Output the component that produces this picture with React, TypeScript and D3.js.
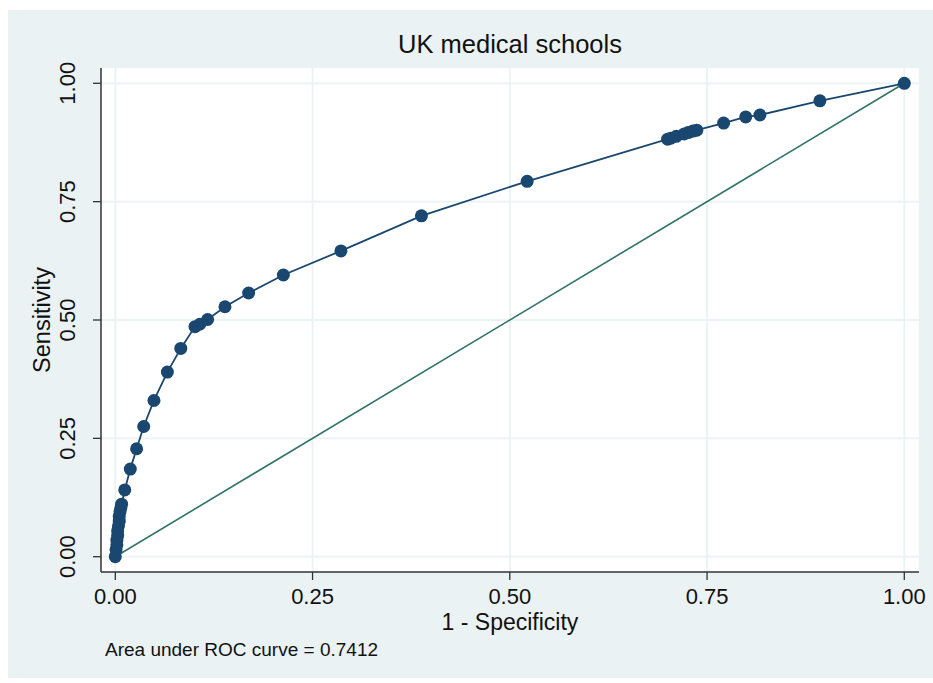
import React from 'react';
import * as d3 from 'd3';

// ROC points (1 - specificity, sensitivity)
const fpr = [0, 0.001, 0.002, 0.002, 0.003, 0.003, 0.004, 0.005, 0.005, 0.006, 0.007, 0.008,
    0.012, 0.019, 0.027, 0.036, 0.049, 0.066, 0.083, 0.101, 0.107, 0.117, 0.139, 0.169,
    0.213, 0.286, 0.388, 0.522, 0.700, 0.704, 0.711, 0.721, 0.726, 0.732, 0.737, 0.771,
    0.799, 0.817, 0.893, 1];
const tpr = [0, 0.015, 0.025, 0.035, 0.045, 0.055, 0.065, 0.075, 0.085, 0.095, 0.103, 0.111,
    0.141, 0.185, 0.228, 0.275, 0.330, 0.390, 0.440, 0.486, 0.491, 0.501, 0.528, 0.557,
    0.595, 0.646, 0.720, 0.793, 0.882, 0.884, 0.888, 0.893, 0.896, 0.899, 0.901, 0.916,
    0.929, 0.933, 0.963, 1];
const ticks = [0, 0.25, 0.5, 0.75, 1];
const tickLabels = ['0.00', '0.25', '0.50', '0.75', '1.00'];

const title = 'UK medical schools';
const xTitle = '1 - Specificity';
const yTitle = 'Sensitivity';
const note = 'Area under ROC curve = 0.7412';

const W = 933;
const H = 683;
const plot = { left: 101, right: 919, top: 68, bottom: 572 };

const FONT = 'Arial, "Liberation Sans", Helvetica, sans-serif';
const BG = '#EAF2F3';
const NAVY = '#1A476F';
const TEAL = '#2F7466';

export default function App() {
    const x = d3.scaleLinear().domain([0, 1]).range([115.3, 904.3]);
    const y = d3.scaleLinear().domain([0, 1]).range([556.7, 83.3]);

    const pts = fpr.map((f, i) => [f, tpr[i]] as [number, number]);
    const line = d3.line<[number, number]>().x(d => x(d[0])).y(d => y(d[1]));
    const midX = (plot.left + plot.right) / 2;
    const midY = (plot.top + plot.bottom) / 2;

    return (
        <svg width={W} height={H} style={{ position: 'absolute', left: 0, top: 0 }} fontFamily={FONT}>
            <rect x={0} y={0} width={W} height={H} fill="#fff" />
            <rect x={8} y={10} width={W - 8} height={668} fill={BG} />
            <rect x={plot.left} y={plot.top} width={plot.right - plot.left} height={plot.bottom - plot.top} fill="#fff" />

            {/* grid */}
            {ticks.map(t => (
                <g key={'g' + t}>
                    <line x1={x(t)} x2={x(t)} y1={plot.top} y2={plot.bottom} stroke={BG} strokeWidth={1.8} />
                    <line x1={plot.left} x2={plot.right} y1={y(t)} y2={y(t)} stroke={BG} strokeWidth={1.8} />
                </g>
            ))}

            {/* reference diagonal */}
            <line x1={x(0)} y1={y(0)} x2={x(1)} y2={y(1)} stroke={TEAL} strokeWidth={1.6} />

            {/* ROC curve */}
            <path d={line(pts) || ''} fill="none" stroke={NAVY} strokeWidth={1.8} />
            {pts.map((p, i) => (
                <circle key={i} cx={x(p[0])} cy={y(p[1])} r={6.5} fill={NAVY} />
            ))}

            {/* axes */}
            <line x1={plot.left} x2={plot.left} y1={plot.top} y2={plot.bottom} stroke="#333" strokeWidth={1.5} />
            <line x1={plot.left} x2={plot.right} y1={plot.bottom} y2={plot.bottom} stroke="#333" strokeWidth={1.5} />
            {ticks.map((t, i) => (
                <g key={'t' + t}>
                    <line x1={plot.left - 8} x2={plot.left} y1={y(t)} y2={y(t)} stroke="#333" strokeWidth={1.3} />
                    <text transform={`translate(74.5,${y(t)}) rotate(-90)`} textAnchor="middle" fontSize={22} fill="#111">{tickLabels[i]}</text>
                    <line x1={x(t)} x2={x(t)} y1={plot.bottom} y2={plot.bottom + 8} stroke="#333" strokeWidth={1.3} />
                    <text x={x(t)} y={603.5} textAnchor="middle" fontSize={22} fill="#111">{tickLabels[i]}</text>
                </g>
            ))}

            <text x={midX} y={53} textAnchor="middle" fontSize={25.5} fill="#111">{title}</text>
            <text x={midX} y={630} textAnchor="middle" fontSize={23} fill="#111">{xTitle}</text>
            <text transform={`translate(50,${midY}) rotate(-90)`} textAnchor="middle" fontSize={23.5} fill="#111">{yTitle}</text>
            <text x={105} y={656} fontSize={19} fill="#111">{note}</text>
        </svg>
    );
}
